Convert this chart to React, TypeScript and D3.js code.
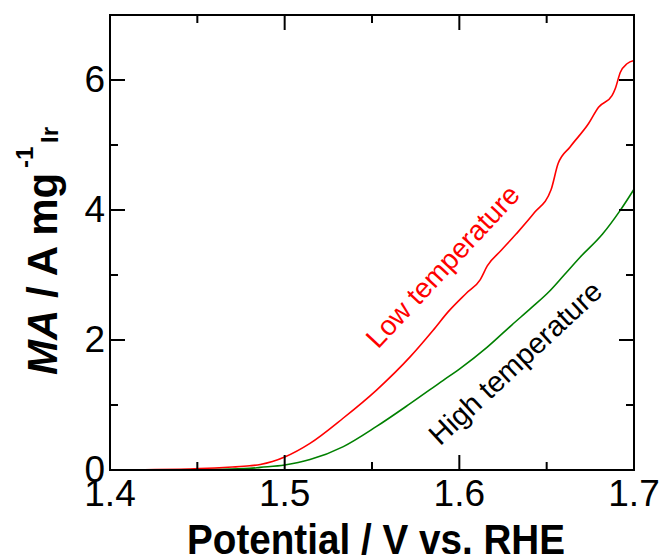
import React from 'react'
import * as d3 from 'd3'

// potential (V vs. RHE) and mass activity (A/mg Ir)
const lowV = [1.4, 1.42, 1.44, 1.46, 1.47, 1.48, 1.486, 1.493, 1.5, 1.5145, 1.5336, 1.5526, 1.5718, 1.585, 1.5938, 1.604, 1.612, 1.616, 1.624, 1.6325, 1.643, 1.6525, 1.6565, 1.6634, 1.674, 1.6797, 1.6874, 1.6893, 1.6922, 1.696, 1.7]
const lowMA = [0, 0.004, 0.012, 0.03, 0.045, 0.065, 0.085, 0.13, 0.2, 0.41, 0.8, 1.23, 1.74, 2.15, 2.44, 2.72, 2.93, 3.14, 3.38, 3.63, 3.96, 4.31, 4.71, 4.97, 5.33, 5.58, 5.76, 5.87, 6.12, 6.25, 6.3]
const highV = [1.4, 1.44, 1.46, 1.48, 1.486, 1.5, 1.5145, 1.5336, 1.5526, 1.5718, 1.5908, 1.6004, 1.616, 1.63, 1.641, 1.6516, 1.66, 1.669, 1.682, 1.692, 1.7]
const highMA = [0, 0.003, 0.01, 0.025, 0.04, 0.077, 0.16, 0.36, 0.67, 1.02, 1.38, 1.56, 1.89, 2.23, 2.49, 2.75, 3.0, 3.27, 3.63, 3.99, 4.32]
const xTicks = [1.4, 1.5, 1.6, 1.7]
const yTicks = [0, 2, 4, 6]

export default function App() {
  const width = 664, height = 560
  const left = 110, right = 634, top = 15, bottom = 470

  const x = d3.scaleLinear().domain([1.4, 1.7]).range([left, right])
  const y = d3.scaleLinear().domain([0, 7]).range([bottom, top])

  const path = (vs: number[], ms: number[]) =>
    d3.line<number>().x(i => x(vs[i])).y(i => y(ms[i])).curve(d3.curveMonotoneX)(d3.range(vs.length)) || ''

  const xMinor = d3.range(0, 3).map(i => 1.45 + i * 0.1)
  const yMinor = [1, 3, 5]
  const font = 'Arial, "Liberation Sans", sans-serif'
  const major = 15, minor = 8

  return (
    <svg width={width} height={height} style={{ position: 'absolute', left: 0, top: 0 }} fontFamily={font}>
      <rect width={width} height={height} fill="#fff" />
      <path d={path(highV, highMA)} fill="none" stroke="#008000" strokeWidth={1.6} />
      <path d={path(lowV, lowMA)} fill="none" stroke="#ff0000" strokeWidth={1.6} />

      <rect x={left} y={top} width={right - left} height={bottom - top} fill="none" stroke="#000" strokeWidth={2} />
      {xTicks.map(t => (
        <g key={'x' + t}>
          <line x1={x(t)} x2={x(t)} y1={bottom} y2={bottom - major} stroke="#000" strokeWidth={2} />
          <line x1={x(t)} x2={x(t)} y1={top} y2={top + major} stroke="#000" strokeWidth={2} />
          <text x={x(t)} y={bottom + 36} textAnchor="middle" fontSize={37}>{t.toFixed(1)}</text>
        </g>
      ))}
      {xMinor.map(t => (
        <g key={'xm' + t}>
          <line x1={x(t)} x2={x(t)} y1={bottom} y2={bottom - minor} stroke="#000" strokeWidth={2} />
          <line x1={x(t)} x2={x(t)} y1={top} y2={top + minor} stroke="#000" strokeWidth={2} />
        </g>
      ))}
      {yTicks.map(t => (
        <g key={'y' + t}>
          <line x1={left} x2={left + major} y1={y(t)} y2={y(t)} stroke="#000" strokeWidth={2} />
          <line x1={right} x2={right - major} y1={y(t)} y2={y(t)} stroke="#000" strokeWidth={2} />
          <text x={left - 5} y={y(t) + 12} textAnchor="end" fontSize={37}>{t}</text>
        </g>
      ))}
      {yMinor.map(t => (
        <g key={'ym' + t}>
          <line x1={left} x2={left + minor} y1={y(t)} y2={y(t)} stroke="#000" strokeWidth={2} />
          <line x1={right} x2={right - minor} y1={y(t)} y2={y(t)} stroke="#000" strokeWidth={2} />
        </g>
      ))}

      <text transform={`translate(${x(1.5535)},${y(1.85)}) rotate(-47)`} fontSize={28} fill="#ff0000">Low temperature</text>
      <text transform={`translate(${x(1.589)},${y(0.36)}) rotate(-43)`} fontSize={29} fill="#000">High temperature</text>

      <text x={376} y={554} textAnchor="middle" fontSize={42} fontWeight="bold" textLength={378} lengthAdjust="spacingAndGlyphs">Potential / V vs. RHE</text>
      <g transform={`translate(57,375) rotate(-90)`} fontWeight="bold">
        <text x={0} y={0} fontSize={42}><tspan fontStyle="italic">MA</tspan> / A mg</text>
        <text x={207} y={-24} fontSize={24}>-1</text>
        <text x={232} y={1} fontSize={24}>Ir</text>
      </g>
    </svg>
  )
}
